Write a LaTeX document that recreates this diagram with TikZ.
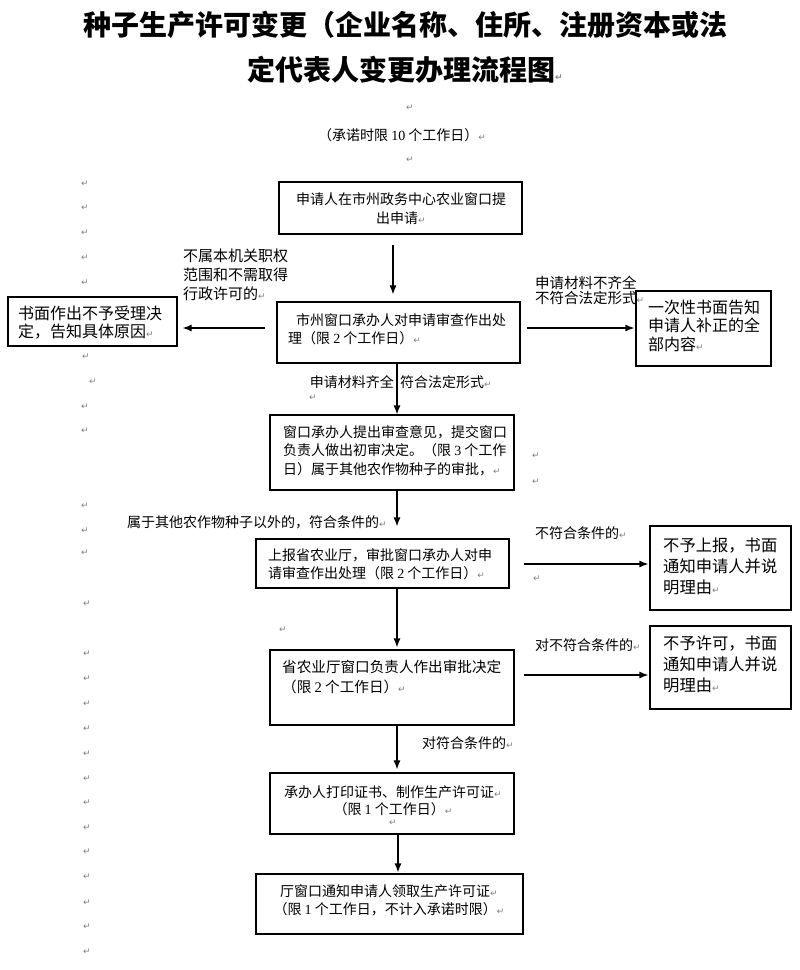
\documentclass[tikz,border=0pt]{standalone}
\usepackage{fontspec}
\setmainfont{Noto Sans CJK SC}
\newfontfamily\dvfont{DejaVu Sans}
\newfontfamily\serifnum{Liberation Serif}
\usetikzlibrary{arrows.meta}
\newcommand\pmk{{\dvfont\fontsize{9}{9}\selectfont\color{black!50}↵}}
\newcommand\dg[1]{{\serifnum #1}}
\tikzset{
  box/.style={draw, line width=1.2pt, inner sep=0pt},
  txt/.style={inner sep=0pt, font=\fontsize{14}{18.5}\selectfont},
  arr/.style={-{Latex[length=9pt,width=7pt]}, line width=1.2pt},
  pmnode/.style={inner sep=0pt}
}
\begin{document}
\begin{tikzpicture}[x=1pt,y=-1pt]
\fill[white] (0,0) rectangle (800,970);
\useasboundingbox (0,0) rectangle (800,970);

% title
\node[anchor=west, inner sep=0pt, font=\fontsize{28}{28}\selectfont\bfseries] (t1) at (83,25) {种子生产许可变更（企业名称、住所、注册资本或法};
\node[anchor=west, inner sep=0pt, font=\fontsize{28}{28}\selectfont\bfseries] (t2) at (247,70) {定代表人变更办理流程图\pmk};
\node[txt, anchor=west] (limit) at (318,135) {（承诺时限 \dg{10} 个工作日）\pmk};

% boxes
\node[box, minimum width=243pt, minimum height=52pt] (A) at (400.5,208) {};
\node[box, minimum width=243pt, minimum height=61pt] (B) at (398.5,332.5) {};
\node[box, minimum width=169pt, minimum height=49pt] (L) at (92.5,321.5) {};
\node[box, minimum width=135pt, minimum height=75pt] (R1) at (703.5,328.5) {};
\node[box, minimum width=244pt, minimum height=75pt] (C) at (392,452.5) {};
\node[box, minimum width=253pt, minimum height=49pt] (D) at (382.5,563.5) {};
\node[box, minimum width=141pt, minimum height=84pt] (R2) at (720.5,568) {};
\node[box, minimum width=244pt, minimum height=75pt] (E) at (392,687.5) {};
\node[box, minimum width=141pt, minimum height=83pt] (R3) at (720.5,667.5) {};
\node[box, minimum width=244pt, minimum height=61pt] (F) at (392,803.5) {};
\node[box, minimum width=267pt, minimum height=60pt] (G) at (389.5,904) {};

% box texts
\node[txt, align=center] (At) at (401,208.5) {申请人在市州政务中心农业窗口提\\出申请\pmk};
\node[txt, align=left, anchor=west] (Bt) at (288,329) {\hspace*{8pt}市州窗口承办人对申请审查作出处\\理（限 \dg{2} 个工作日）\pmk};
\node[txt, align=left, anchor=west, font=\fontsize{16}{18}\selectfont] (Lt) at (18,323) {书面作出不予受理决\\定，告知具体原因\pmk};
\node[txt, align=left, anchor=west, font=\fontsize{16}{18.5}\selectfont] (R1t) at (648,325.7) {一次性书面告知\\申请人补正的全\\部内容\pmk};
\node[txt, align=left, anchor=west] (Ct) at (283,450.5) {窗口承办人提出审查意见，提交窗口\\负责人做出初审决定。（限 \dg{3} 个工作\\日）属于其他农作物种子的审批，\pmk};
\node[txt, align=left, anchor=west] (Dt) at (268,564) {上报省农业厅，审批窗口承办人对申\\请审查作出处理（限 \dg{2} 个工作日）\pmk};
\node[txt, align=left, anchor=west, font=\fontsize{16.3}{21}\selectfont] (R2t) at (663,566) {不予上报，书面\\通知申请人并说\\明理由\pmk};
\node[txt, align=left, anchor=west, font=\fontsize{14.6}{20}\selectfont] (Et) at (282,677) {省农业厅窗口负责人作出审批决定\\（限 \dg{2} 个工作日）\pmk};
\node[txt, align=left, anchor=west, font=\fontsize{16.3}{21}\selectfont] (R3t) at (663,664) {不予许可，书面\\通知申请人并说\\明理由\pmk};
\node[txt, align=center, font=\fontsize{14}{17}\selectfont] (Ft) at (393,800.5) {承办人打印证书、制作生产许可证\pmk\\（限 \dg{1} 个工作日）\pmk};
\node[txt, align=center, font=\fontsize{14}{17.5}\selectfont] (Gt) at (389,900.5) {厅窗口通知申请人领取生产许可证\pmk\\（限 \dg{1} 个工作日，不计入承诺时限）\pmk};

% labels
\node[txt, align=left, anchor=west, font=\fontsize{15}{19}\selectfont] (lab1) at (183,275) {不属本机关职权\\范围和不需取得\\行政许可的\pmk};
\node[txt, align=left, anchor=west, font=\fontsize{14.5}{15.6}\selectfont] (lab2) at (535,290.5) {申请材料不齐全\\不符合法定形式\pmk};
\node[txt, anchor=east] (lab3a) at (394,382) {申请材料齐全};
\node[txt, anchor=west] (lab3b) at (400,382) {符合法定形式\pmk};
\node[txt, anchor=west] (lab4) at (127,522) {属于其他农作物种子以外的，符合条件的\pmk};
\node[txt, anchor=west] (lab5) at (535,533) {不符合条件的\pmk};
\node[txt, anchor=west] (lab6) at (535,645) {对不符合条件的\pmk};
\node[txt, anchor=west] (lab7) at (422,743) {对符合条件的\pmk};

% connectors
\coordinate (xab) at (393,0);
\coordinate (xc) at (397,0);
\coordinate (xf) at (398,0);
\coordinate (ybl) at (0,328);
\coordinate (yd) at (0,564);
\coordinate (ye) at (0,675);
\draw[arr, shorten <=10pt, shorten >=7pt] (xab |- A.south) -- (xab |- B.north);
\draw[arr, shorten <=11pt, shorten >=5pt] (B.west |- ybl) -- (L.east |- ybl);
\draw[arr, shorten <=6pt, shorten >=1pt] (B.east |- ybl) -- (R1.west |- ybl);
\draw[arr] (xc |- B.south) -- (xc |- C.north);
\draw[arr, shorten >=12pt] (xc |- C.south) -- (xc |- D.north);
\draw[arr, shorten <=14pt, shorten >=1pt] (D.east |- yd) -- (R2.west |- yd);
\draw[arr, shorten >=2pt] (xc |- D.south) -- (xc |- E.north);
\draw[arr, shorten <=9pt, shorten >=1pt] (E.east |- ye) -- (R3.west |- ye);
\draw[arr, shorten >=3pt] (xc |- E.south) -- (xc |- F.north);
\draw[arr, shorten >=1pt] (xf |- F.south) -- (xf |- G.north);

% paragraph marks
\foreach \x/\y [count=\i] in {85/184, 85/208, 85/233, 85/258, 85/283, 86/357, 93/382, 85/407, 85/431, 85/506, 85/531, 85/553, 87/604, 87/654, 87/679, 87/704, 87/729, 87/754, 87/779, 87/803, 87/828, 87/852, 87/877, 87/903, 87/927, 87/952, 283/630, 536/456, 536/482, 537/579, 313/398, 393/823, 410/108, 410/160}
  \node[pmnode] (pm\i) at (\x,\y) {\pmk};
\end{tikzpicture}
\end{document}
